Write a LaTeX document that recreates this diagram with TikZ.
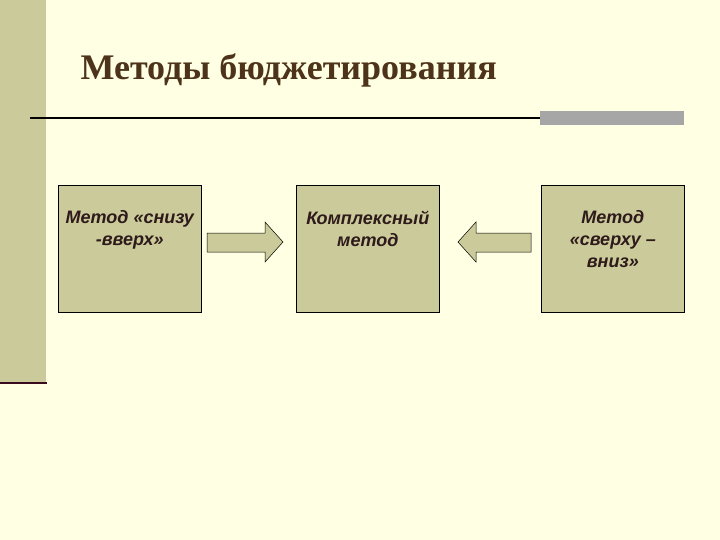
\documentclass[tikz,border=0pt]{standalone}
\usepackage{fontspec}
\setmainfont{Liberation Serif}
\setsansfont{Liberation Sans}
\definecolor{bgpage}{HTML}{FFFFE3}
\definecolor{olive}{HTML}{CACA9A}
\definecolor{titlebrown}{HTML}{4D3319}
\definecolor{boxtext}{HTML}{2E1A1A}
\definecolor{maroon}{HTML}{3A0A1E}
\tikzset{
  methodbox/.style={draw=black, fill=olive, line width=0.6pt, minimum width=143pt, minimum height=127pt, anchor=north west, inner sep=0pt},
  methodtext/.style={font=\sffamily\bfseries\itshape\fontsize{18}{22}\selectfont, text=boxtext, align=center},
  blockarrow/.style={draw=black, fill=olive, line width=0.5pt}
}
\begin{document}
\begin{tikzpicture}[x=1pt,y=-1pt]
  \useasboundingbox (0,0) rectangle (720,540);
  \fill[bgpage] (0,0) rectangle (720,540);
  \fill[olive] (0,0) rectangle (46,383);
  \draw[maroon, line width=2.5pt] (0,383) -- (47,383);

  \node[anchor=west, font=\bfseries\fontsize{36}{40}\selectfont, text=titlebrown] (title) at (77,70) {Методы бюджетирования};
  \draw[line width=1.2pt] (30,118) -- (540,118);
  \fill[gray!70] (540,111) rectangle (684,125);

  \node[methodbox] (bottomup) at (58,185) {};
  \node[methodbox] (complex) at (296,185) {};
  \node[methodbox] (topdown) at (541,185) {};

  \node[methodtext, anchor=north] (t1) at ([yshift=-22pt]bottomup.north) {Метод «снизу\\-вверх»};
  \node[methodtext, anchor=north] (t2) at ([yshift=-22pt]complex.north) {Комплексный\\метод};
  \node[methodtext, anchor=north] (t3) at ([yshift=-22pt]topdown.north) {Метод\\«сверху –\\вниз»};

  % block arrows
  \draw[blockarrow] (207,233) -- (265,233) -- (265,222) -- (283,242) -- (265,262) -- (265,252) -- (207,252) -- cycle;
  \draw[blockarrow] (531,233) -- (476,233) -- (476,222) -- (458,242) -- (476,262) -- (476,252) -- (531,252) -- cycle;
\end{tikzpicture}
\end{document}
